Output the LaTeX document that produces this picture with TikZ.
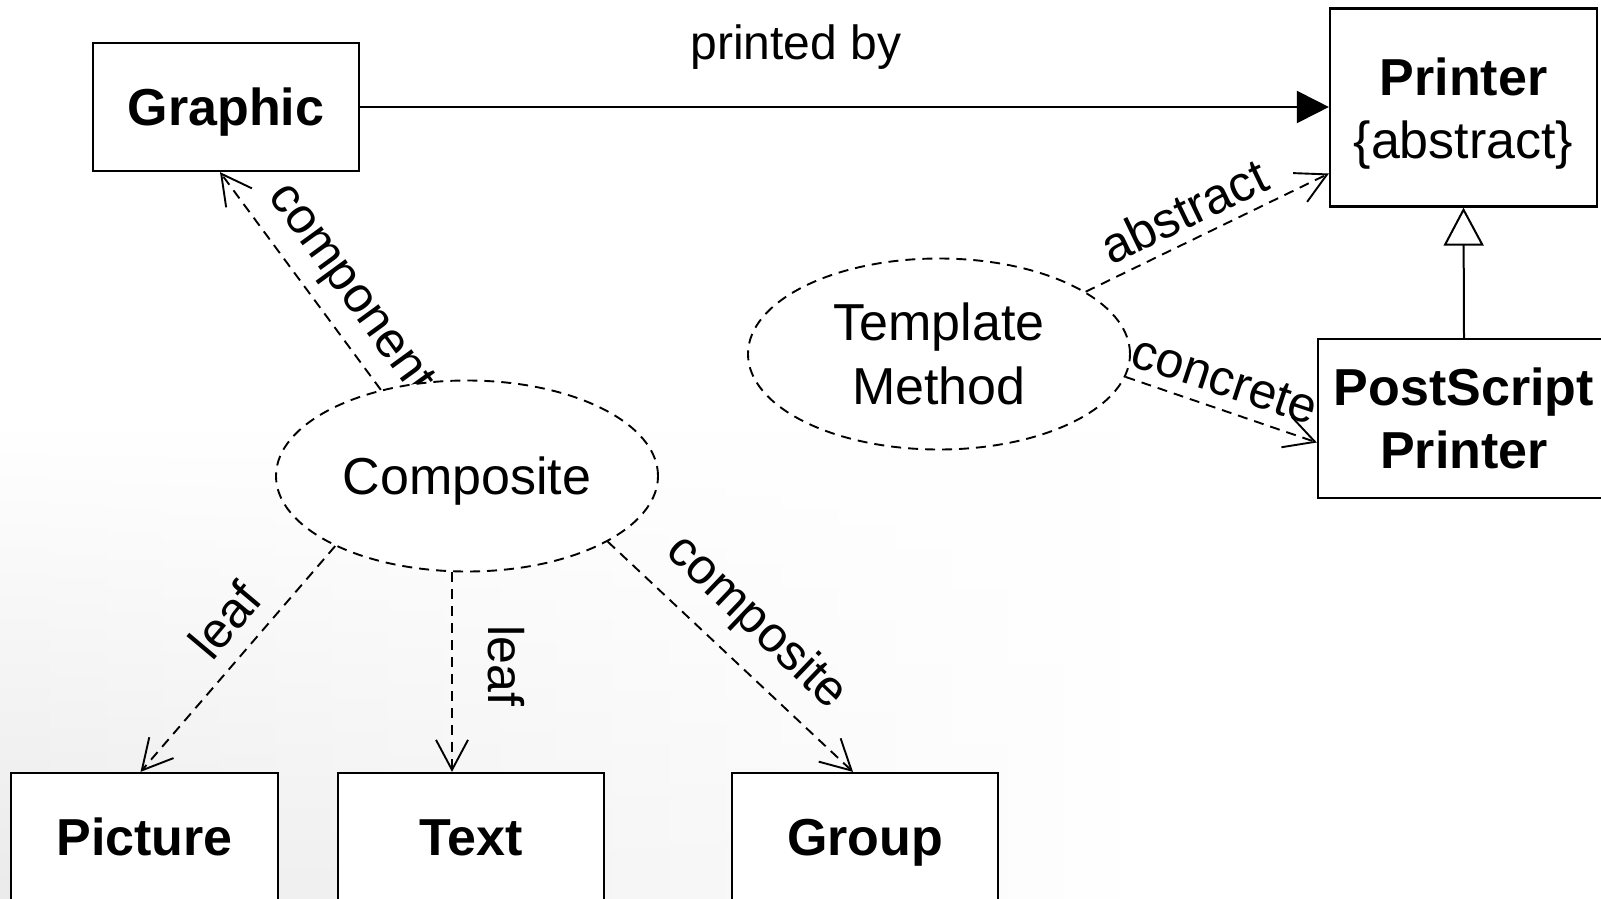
\documentclass[tikz,border=0pt]{standalone}
\usepackage{fontspec}
\setmainfont{Liberation Sans}
\usetikzlibrary{arrows.meta,shapes.geometric,fadings}
\begin{document}
\begin{tikzpicture}[x=1pt,y=-1pt,
  box/.style={draw, line width=2.2pt, fill=white, minimum width=266pt, minimum height=128pt,
    font=\fontsize{52}{63}\selectfont\bfseries, align=center, inner sep=0pt},
  one/.style={text height=37.5pt, text depth=0pt},
  ell/.style={ellipse, draw, line width=1.9pt, dash pattern=on 10pt off 7pt, fill=white,
    minimum width=382pt, minimum height=191pt, inner sep=0pt,
    font=\fontsize{52}{64}\selectfont, align=center},
  dep/.style={line width=1.9pt, dash pattern=on 10pt off 7pt,
    -{Straight Barb[length=30pt,width=32pt,line width=1.9pt]}},
  lbl/.style={font=\fontsize{50}{60}\selectfont, inner sep=0pt}
]
\useasboundingbox (0,0) rectangle (1601,899);
\clip (0,0) rectangle (1601,899);
\fill[white] (0,0) rectangle (1601,899);
\shade[left color=black!8, right color=white, path fading=north] (0,430) rectangle (1150,899);

% labels first, so the shapes lie over them where they cross
\node[font=\fontsize{48}{58}\selectfont, inner sep=0pt] (pb) at (796,47) {printed by};
\node[lbl, rotate=-54] (lcomp) at (349,290) {component};
\node[lbl, rotate=50] (lleaf1) at (225,620) {leaf};
\node[lbl, rotate=-90] (lleaf2) at (506,666) {leaf};
\node[lbl, rotate=-43.7] (lcomposite) at (756,623) {composite};
\node[lbl, rotate=25.7] (labs) at (1184,211) {abstract};
\node[lbl, rotate=-18.3] (lconc) at (1225,380) {concrete};

\node[box, one] (graphic) at (226,107) {Graphic};
\node[box, minimum width=267pt, minimum height=198pt] (printer) at (1463.5,107.5) {};
\node[font=\fontsize{52}{63}\selectfont, align=center, inner sep=0pt] (printertext) at ([yshift=-6pt]printer.center) {\bfseries Printer\\\{abstract\}};
\node[box, minimum width=292pt, minimum height=159pt] (ps) at (1464,418.5) {PostScript\\Printer};
\node[box, one, minimum width=267pt] (picture) at (144.5,837) {Picture};
\node[box, one] (text) at (471,837) {Text};
\node[box, one] (group) at (865,837) {Group};

\node[ell] (tm) at (939,354) {Template\\Method};
\node[ell, one] (comp) at (467,476) {Composite};

% printed by
\draw[line width=2pt, -{Triangle[length=32pt,width=32pt]}] (graphic.east) -- (graphic.east -| printer.west);

% generalization
\draw[line width=2pt, -{Triangle[open,length=38pt,width=40pt,fill=white,line width=2pt]}] (ps.north) -- (printer.south);

% dependencies
\draw[dep] (comp.135) -- ([xshift=-6pt]graphic.south);
\draw[dep] (comp.208) -- ([xshift=-4pt]picture.north);
\draw[dep] ([xshift=-15pt]comp.south) -- ([xshift=-19pt]text.north);
\draw[dep] (comp.335) -- ([xshift=-12pt]group.north);
\draw[dep] (tm.23) -- ([yshift=-66pt]printer.west);
\draw[dep] (tm.-7) -- ([yshift=-24pt]ps.west);
\end{tikzpicture}
\end{document}
